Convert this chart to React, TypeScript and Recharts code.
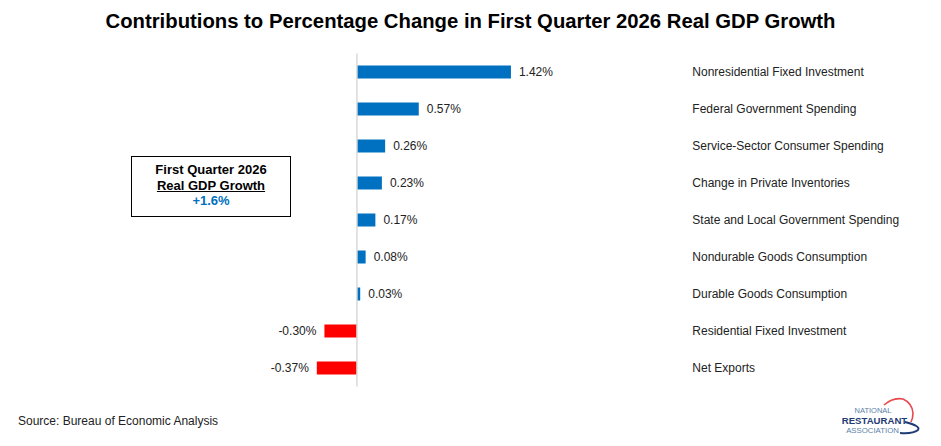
import { Bar, BarChart, Cell, LabelList, ReferenceLine, XAxis, YAxis } from "recharts";

const categories = [
  "Nonresidential Fixed Investment",
  "Federal Government Spending",
  "Service-Sector Consumer Spending",
  "Change in Private Inventories",
  "State and Local Government Spending",
  "Nondurable Goods Consumption",
  "Durable Goods Consumption",
  "Residential Fixed Investment",
  "Net Exports",
];

const contributions = [1.42, 0.57, 0.26, 0.23, 0.17, 0.08, 0.03, -0.3, -0.37];

const headlineGrowth = "+1.6%";

const data = categories.map((name, i) => ({ name, value: contributions[i] }));

const FONT = "'Liberation Sans', Arial, sans-serif";
const BLUE = "#0070C0";
const RED = "#FF0000";

function ValueLabel(props: any) {
  const { x, y, width, height, value } = props;
  const left = Math.min(x, x + width);
  const right = Math.max(x, x + width);
  const neg = value < 0;
  return (
    <text
      x={neg ? left - 8 : right + 8}
      y={y + height / 2}
      textAnchor={neg ? "end" : "start"}
      dominantBaseline="central"
      fontSize={12}
      fontFamily={FONT}
      fill="#222"
    >
      {value.toFixed(2)}%
    </text>
  );
}

function CategoryTick(props: any) {
  const { x, y, payload } = props;
  return (
    <text
      x={x}
      y={y}
      textAnchor="start"
      dominantBaseline="central"
      fontSize={12}
      fontFamily={FONT}
      fill="#222"
    >
      {payload.value}
    </text>
  );
}

// NRA mark in the lower-right corner
function Logo() {
  return (
    <svg
      width={111}
      height={51}
      style={{ position: "absolute", left: 830, top: 395 }}
      fontFamily={FONT}
    >
      <path
        d="M54 10 Q63 2 73 4 Q82 8 83 18 Q83 23 81 27"
        fill="none"
        stroke="#e8474d"
        strokeWidth={1.6}
      />
      <path
        d="M75 27 Q91 31 88 35 Q83 39 70 38"
        fill="none"
        stroke="#1f3b73"
        strokeWidth={2}
      />
      <text x={43} y={18} textAnchor="middle" fontSize={7.5} fill="#5b7fa8">
        NATIONAL
      </text>
      <text x={44.5} y={28.5} textAnchor="middle" fontSize={9.6} fontWeight={700} fill="#1f3b73">
        RESTAURANT
      </text>
      <text x={42.5} y={37.5} textAnchor="middle" fontSize={7.8} fill="#5b7fa8">
        ASSOCIATION
      </text>
    </svg>
  );
}

export default function App() {
  return (
    <div
      style={{
        position: "absolute",
        left: 0,
        top: 0,
        width: 941,
        height: 446,
        background: "#fff",
        fontFamily: FONT,
        overflow: "hidden",
      }}
    >
      <div
        style={{
          position: "absolute",
          left: 0,
          top: 10,
          width: 941,
          textAlign: "center",
          fontSize: 20.3,
          fontWeight: 700,
          color: "#000",
        }}
      >
        Contributions to Percentage Change in First Quarter 2026 Real GDP Growth
      </div>

      <BarChart
        width={941}
        height={446}
        data={data}
        layout="vertical"
        barSize={13}
        margin={{ top: 53.5, right: 8.7, left: 248.5, bottom: 59.5 }}
        style={{ position: "absolute", left: 0, top: 0 }}
      >
        <XAxis type="number" domain={[-1, 3]} hide />
        <YAxis
          type="category"
          dataKey="name"
          orientation="right"
          width={250}
          axisLine={false}
          tickLine={false}
          tickSize={0}
          tickMargin={10}
          tick={<CategoryTick />}
        />
        <ReferenceLine x={0} stroke="#d9d9d9" strokeWidth={1.5} />
        <Bar dataKey="value" isAnimationActive={false}>
          {data.map((d) => (
            <Cell key={d.name} fill={d.value < 0 ? RED : BLUE} />
          ))}
          <LabelList dataKey="value" content={<ValueLabel />} />
        </Bar>
      </BarChart>

      <div
        style={{
          position: "absolute",
          left: 131,
          top: 156,
          width: 158,
          height: 54,
          border: "1.5px solid #000",
          textAlign: "center",
          fontSize: 13,
          fontWeight: 700,
          lineHeight: "15.5px",
          paddingTop: 5,
          boxSizing: "content-box",
        }}
      >
        <div>First Quarter 2026</div>
        <div style={{ textDecoration: "underline" }}>Real GDP Growth</div>
        <div style={{ color: BLUE }}>{headlineGrowth}</div>
      </div>

      <div
        style={{
          position: "absolute",
          left: 18,
          top: 414,
          fontSize: 12,
          color: "#222",
        }}
      >
        Source: Bureau of Economic Analysis
      </div>

      <Logo />
    </div>
  );
}
